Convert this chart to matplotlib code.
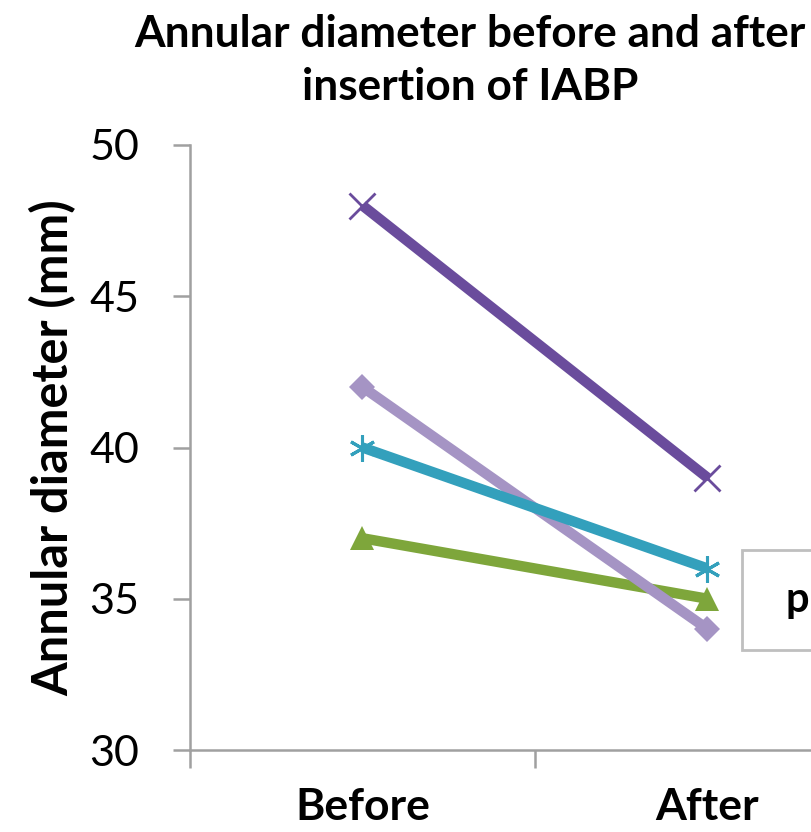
import matplotlib
matplotlib.use("Agg")
import matplotlib.pyplot as plt
from matplotlib.patches import Rectangle

# Data: annular diameter (mm) before and after IABP insertion, one series per patient
categories = ["Before", "After"]
patient_a = [48, 39]   # dark purple, x marker
patient_b = [42, 34]   # lavender, diamond marker
patient_c = [40, 36]   # teal, asterisk marker
patient_d = [37, 35]   # green, triangle marker
y_ticks = [30, 35, 40, 45, 50]

title_lines = ["Annular diameter before and after", "insertion of IABP"]
y_label = "Annular diameter (mm)"
p_text = "p"

FONT = "Lato"
HEAVY = "bold"
plt.rcParams["font.family"] = [FONT, "DejaVu Sans"]

fig = plt.figure(figsize=(8.12, 8.32), dpi=100)
W, H = 812, 832
ax = fig.add_axes([190 / W, (H - 750) / H, 690 / W, 605 / H])

x = list(range(len(categories)))
lw = 7.5
series = [
    (patient_d, "#7EA63B", "^", 17, 0),
    (patient_b, "#A594C4", "D", 13, 0),
    (patient_c, "#33A0BC", (6, 2, 0), 19, 2.2),
    (patient_a, "#6A4C9C", "x", 19, 2.0),
]
for vals, col, mk, ms, mew in series:
    ax.plot(x, vals, color=col, lw=lw, marker=mk, markersize=ms,
            solid_capstyle="butt", markerfacecolor=col, markeredgecolor=col,
            markeredgewidth=mew, clip_on=False, zorder=3)

ax.set_xlim(-0.5, 1.5)
ax.set_ylim(30, 50)
ax.set_yticks(y_ticks)
ax.set_xticks(x)
ax.set_xticks([-0.5, 0.5, 1.5], minor=True)
ax.set_xticklabels(categories, fontsize=32, fontweight=HEAVY)
ax.tick_params(axis="x", which="major", length=0, pad=27)
ax.tick_params(axis="x", which="minor", length=13, width=1.8, color="#A0A0A0", direction="out")
ax.tick_params(axis="y", length=12.5, width=1.8, color="#A0A0A0", labelsize=31, pad=24)

for side in ("top", "right"):
    ax.spines[side].set_visible(False)
for side in ("left", "bottom"):
    ax.spines[side].set_color("#A0A0A0")
    ax.spines[side].set_linewidth(1.8)

ax.set_ylabel(y_label, fontsize=35, fontweight=HEAVY)
ax.yaxis.set_label_coords(-(190 - 76) / 690, 0.5)

# Two-line title, each line placed on its own baseline
for line, base in zip(title_lines, (47, 100)):
    fig.text(470 / W, 1 - base / H, line, ha="center", va="baseline",
             fontsize=31.8, fontweight=HEAVY)

# Statistics box at the right edge
fig.patches.append(Rectangle((742 / W, (H - 650) / H), 200 / W, 100 / H,
                             transform=fig.transFigure, facecolor="white",
                             edgecolor="#BFBFBF", linewidth=2))
fig.text(786 / W, (H - 612) / H, p_text, ha="left", va="baseline", fontsize=30,
         fontweight=HEAVY)

fig.savefig("out.png", dpi=100)
